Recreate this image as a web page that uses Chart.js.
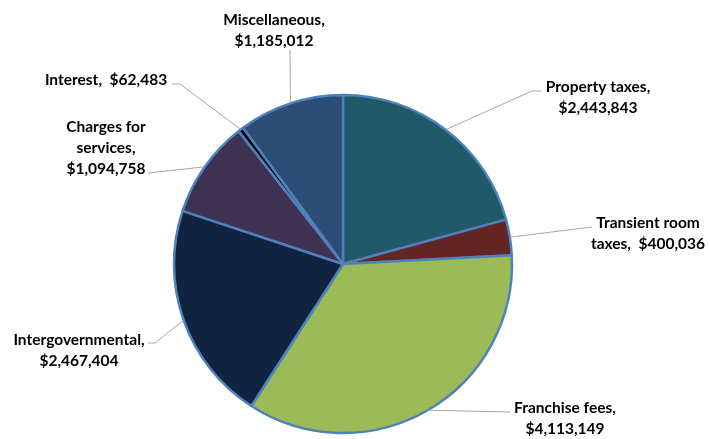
<!DOCTYPE html>
<html>
<head>
<meta charset="utf-8">
<script src="https://cdn.jsdelivr.net/npm/chart.js@4/dist/chart.umd.min.js"></script>
<style>
  html, body { margin: 0; padding: 0; background: #ffffff; }
  #wrap { width: 710px; height: 439px; position: relative; }
</style>
</head>
<body>
<div id="wrap"><canvas id="revenue"></canvas></div>
<script>
// Revenue sources, clockwise from 12 o'clock
const categories = [
  'Property taxes',
  'Transient room taxes',
  'Franchise fees',
  'Intergovernmental',
  'Charges for services',
  'Interest',
  'Miscellaneous'
];
const amounts = [2443843, 400036, 4113149, 2467404, 1094758, 62483, 1185012];
const sliceColors = ['#215968', '#632523', '#9BBB59', '#11243F', '#3F3151', '#000000', '#2C4D75'];

// How each callout label is broken into lines ({v} = formatted amount)
const labelLines = [
  ['Property taxes,', '{v}'],
  ['Transient room', 'taxes,  {v}'],
  ['Franchise fees,', '{v}'],
  ['Intergovernmental,', '{v}'],
  ['Charges for', 'services,', '{v}'],
  ['Interest,  {v}'],
  ['Miscellaneous,', '{v}']
];

// Callout placement: text centre x, first-line centre y, leader start and optional elbow
const calloutLayout = [
  { x: 598, y: 87,  from: [541, 91],  elbow: [532, 91] },
  { x: 648, y: 223, from: [592, 227], elbow: null },
  { x: 565, y: 408, from: [510, 412], elbow: null },
  { x: 79,  y: 340, from: [148, 343], elbow: [155, 343] },
  { x: 106, y: 127, from: [148, 173], elbow: null },
  { x: 106, y: 80,  from: [172, 84],  elbow: [180, 84] },
  { x: 274, y: 20,  from: [290, 50],  elbow: null }
];

const money = v => '$' + v.toLocaleString('en-US');

const calloutPlugin = {
  id: 'callouts',
  afterDatasetsDraw(chart) {
    const ctx = chart.ctx;
    const arcs = chart.getDatasetMeta(0).data;
    ctx.save();
    // leader lines from each slice's outer mid-point
    ctx.strokeStyle = '#A6A6A6';
    ctx.lineWidth = 1;
    arcs.forEach((arc, i) => {
      const p = arc.getProps(['x', 'y', 'startAngle', 'endAngle', 'outerRadius'], true);
      const mid = (p.startAngle + p.endAngle) / 2;
      const ax = p.x + Math.cos(mid) * p.outerRadius;
      const ay = p.y + Math.sin(mid) * p.outerRadius;
      const c = calloutLayout[i];
      ctx.beginPath();
      ctx.moveTo(c.from[0], c.from[1]);
      if (c.elbow) ctx.lineTo(c.elbow[0], c.elbow[1]);
      ctx.lineTo(ax, ay);
      ctx.stroke();
    });
    // label text
    ctx.fillStyle = '#000000';
    ctx.font = 'bold 15.5px Lato, "Open Sans", sans-serif';
    ctx.textAlign = 'center';
    ctx.textBaseline = 'middle';
    labelLines.forEach((lines, i) => {
      const c = calloutLayout[i];
      lines.forEach((ln, k) => {
        ctx.fillText(ln.replace('{v}', money(amounts[i])), c.x, c.y + k * 21);
      });
    });
    ctx.restore();
  }
};

new Chart(document.getElementById('revenue'), {
  type: 'pie',
  data: {
    labels: categories,
    datasets: [{
      data: amounts,
      backgroundColor: sliceColors,
      borderColor: '#4F81BD',
      borderWidth: 2.5,
      radius: 169
    }]
  },
  options: {
    responsive: true,
    maintainAspectRatio: false,
    animation: false,
    layout: { padding: { left: 0, right: 24, top: 89, bottom: 0 } },
    plugins: {
      legend: { display: false },
      tooltip: { enabled: false }
    }
  },
  plugins: [calloutPlugin]
});
</script>
</body>
</html>
